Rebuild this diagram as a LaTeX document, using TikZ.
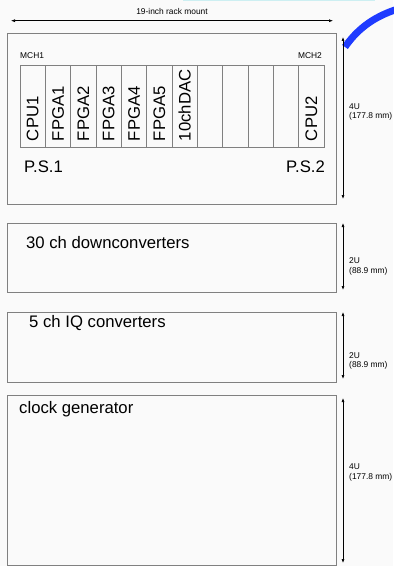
\documentclass[tikz,border=0pt]{standalone}
\usepackage{fontspec}
\setmainfont{Liberation Sans}
\usetikzlibrary{arrows.meta}

\definecolor{rackgray}{HTML}{808080}
\definecolor{pagegray}{HTML}{FAFAFA}
\definecolor{markblue}{HTML}{1F3BFF}
\definecolor{topcyan}{HTML}{CDEFF2}

\newcommand{\bigtxt}{\fontsize{16.7bp}{19bp}\selectfont}
\newcommand{\smalltxt}{\fontsize{8.4bp}{9.5bp}\selectfont}

\begin{document}
\begin{tikzpicture}[x=1bp, y=-1bp,
% common options for the crates:
crate/.style = {draw=rackgray, line width=0.8bp, anchor=north west,
            minimum width=329bp, inner sep=0},
% common options for the slots (turned upright):
slot/.style = {draw=rackgray, line width=0.8bp, rotate=90, font=\bigtxt,
            minimum width=82bp, minimum height=25.33bp, inner xsep=6bp,
            inner ysep=0, text width=70bp, align=left},
big/.style = {font=\bigtxt, inner sep=0},
small/.style = {font=\smalltxt, inner sep=0, align=left},
dim/.style = {{Latex[length=4bp,width=3bp]}-{Latex[length=4bp,width=3bp]},
            line width=0.6bp}]
\useasboundingbox[fill=pagegray] (0,0) rectangle (393,566);
\fill[topcyan] (183,0) rectangle (375,1.3);
\draw[markblue, line width=7bp] (345,47) .. controls (356,31) and (372,17) .. (398,9);
% crates
\node[crate,minimum height=171bp] (C1) at (7,33) {};
\node[crate,minimum height=69bp] (C2) at (7,223) {};
\node[crate,minimum height=70bp] (C3) at (7,312) {};
\node[crate,minimum height=170bp] (C4) at (7,395) {};
% slots of the first crate
\node[slot] (S1) at (32.67,106) {CPU1};
\node[slot] (S2) at (58.00,106) {FPGA1};
\node[slot] (S3) at (83.33,106) {FPGA2};
\node[slot] (S4) at (108.67,106) {FPGA3};
\node[slot] (S5) at (134.00,106) {FPGA4};
\node[slot] (S6) at (159.33,106) {FPGA5};
\node[slot] (S7) at (184.67,106) {10chDAC};
\node[slot] (S8) at (210.00,106) {};
\node[slot] (S9) at (235.33,106) {};
\node[slot] (S10) at (260.67,106) {};
\node[slot] (S11) at (286.00,106) {};
\node[slot] (S12) at (311.33,106) {CPU2};
\node[small,anchor=base west] (M1) at (20,58.3) {MCH1};
\node[small,anchor=base east] (M2) at (322,58.3) {MCH2};
\node[big,anchor=base west] (P1) at (24,172) {P.S.1};
\node[big,anchor=base east] (P2) at (325,172) {P.S.2};
\node[big,anchor=base west] (T2) at (26,248) {30 ch downconverters};
\node[big,anchor=base west] (T3) at (29,327) {5 ch IQ converters};
\node[big,anchor=base west] (T4) at (19,413) {clock generator};
% dimensions
\coordinate (W1) at (11,20.7);
\coordinate (W2) at (333,20.7);
\coordinate (H1a) at (343,37);
\coordinate (H1b) at (343,199);
\coordinate (H2a) at (343,223);
\coordinate (H2b) at (343,290);
\coordinate (H3a) at (343,312);
\coordinate (H3b) at (343,379);
\coordinate (H4a) at (343,398);
\coordinate (H4b) at (343,563);
\draw[dim] (W1) -- node[small,above=6bp] (R) {19-inch rack mount} (W2);
\draw[dim] (H1a) to (H1b);
\draw[dim] (H2a) to (H2b);
\draw[dim] (H3a) to (H3b);
\draw[dim] (H4a) to (H4b);
\node[small,anchor=west] (U1) at (349,112) {4U\\(177.8 mm)};
\node[small,anchor=west] (U2) at (349,266.5) {2U\\(88.9 mm)};
\node[small,anchor=west] (U3) at (349,361) {2U\\(88.9 mm)};
\node[small,anchor=west] (U4) at (349,472.5) {4U\\(177.8 mm)};
\end{tikzpicture}
\end{document}
